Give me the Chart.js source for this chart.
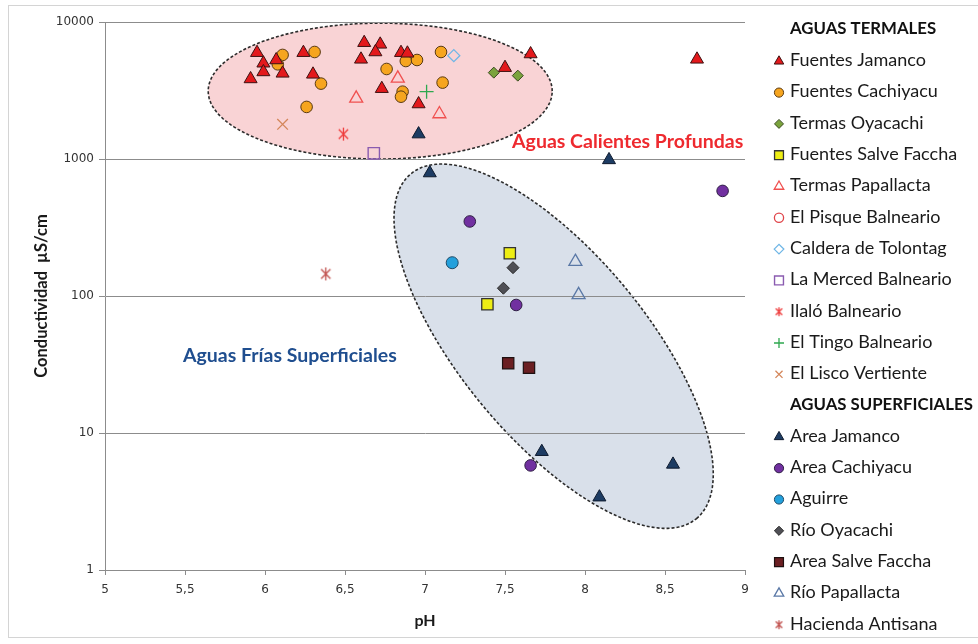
<!DOCTYPE html>
<html>
<head>
<meta charset="utf-8">
<script src="https://cdn.jsdelivr.net/npm/chart.js@4/dist/chart.umd.min.js"></script>
<style>
  html, body { margin: 0; padding: 0; background: #fff; }
  #wrap { width: 978px; height: 644px; }
</style>
</head>
<body>
<div id="wrap"><canvas id="c" width="978" height="644"></canvas></div>
<script>
// ---- Axis ticks ----
const phTicks = [5, 5.5, 6, 6.5, 7, 7.5, 8, 8.5, 9];
const ecTicks = [1, 10, 100, 1000, 10000];

// ---- Aguas termales: pH and conductivity (µS/cm) ----
const fuentesJamancoPH = [5.95, 5.99, 5.99, 5.91, 6.11, 6.07, 6.24, 6.30, 6.62, 6.72, 6.69, 6.60, 6.73, 6.85, 6.89, 6.96, 7.50, 7.66, 8.70];
const fuentesJamancoEC = [5970, 5000, 4320, 3840, 4220, 5280, 5970, 4150, 7060, 6870, 6040, 5340, 3260, 5970, 5910, 2520, 4640, 5840, 5340];
const fuentesCachiyacuPH = [6.11, 6.08, 6.31, 6.35, 6.26, 6.76, 6.88, 6.95, 7.10, 7.11, 6.86, 6.85];
const fuentesCachiyacuEC = [5750, 4910, 6040, 3550, 2400, 4540, 5190, 5280, 6040, 3610, 3100, 2850];
const termasOyacachiPH = [7.43, 7.58];
const termasOyacachiEC = [4270, 4060];
const fuentesSalveFacchaPH = [7.53, 7.39];
const fuentesSalveFacchaEC = [205, 87];
const termasPapallactaPH = [6.57, 6.83, 7.09];
const termasPapallactaEC = [2770, 3880, 2130];
const elPisquePH = [];
const elPisqueEC = [];
const calderaTolontagPH = [7.18];
const calderaTolontagEC = [5680];
const laMercedPH = [6.68];
const laMercedEC = [1100];
const ilaloPH = [6.49];
const ilaloEC = [1520];
const elTingoPH = [7.01];
const elTingoEC = [3100];
const elLiscoPH = [6.11];
const elLiscoEC = [1790];

// ---- Aguas superficiales ----
const areaJamancoPH = [6.96, 7.03, 8.15, 7.73, 8.09, 8.55];
const areaJamancoEC = [1520, 790, 985, 7.3, 3.4, 5.9];
const areaCachiyacuPH = [7.28, 8.86, 7.57, 7.66];
const areaCachiyacuEC = [350, 585, 86, 5.8];
const aguirrePH = [7.17];
const aguirreEC = [175];
const rioOyacachiPH = [7.55, 7.49];
const rioOyacachiEC = [161, 114];
const areaSalveFacchaPH = [7.52, 7.65];
const areaSalveFacchaEC = [32.3, 30];
const rioPapallactaPH = [7.94, 7.96];
const rioPapallactaEC = [178, 102];
const haciendaAntisanaPH = [6.38];
const haciendaAntisanaEC = [145];

// ---- Zone outlines: centre (pH, µS/cm) and half-axes in (pH, decades) ----
const calientesCenter = [6.72, 3130];
const calientesAxes = [[1.075, 0], [0, 0.496]];
const friasCenter = [7.804, 43.0];
const friasAxes = [[0.893, -1.258], [0.445, 0.431]];

const pairs = (xs, ys) => xs.map((x, i) => ({ x: x, y: ys[i] }));

// Excel-style asterisk marker (vertical stroke plus an X)
function asteriskCanvas(size, color) {
  const c = document.createElement('canvas');
  c.width = size; c.height = size;
  const g = c.getContext('2d');
  const m = size / 2, r = size / 2 - 1, d = r * 0.72;
  g.strokeStyle = color; g.lineWidth = 1.3;
  g.beginPath();
  g.moveTo(m, m - r); g.lineTo(m, m + r);
  g.moveTo(m - d, m - d); g.lineTo(m + d, m + d);
  g.moveTo(m + d, m - d); g.lineTo(m - d, m + d);
  g.stroke();
  return c;
}

function series(label, xs, ys, style, radius, fill, stroke, width, legendRadius) {
  return {
    label: label,
    data: pairs(xs, ys),
    pointStyle: style,
    pointRadius: radius,
    pointHoverRadius: radius,
    backgroundColor: fill,
    borderColor: stroke,
    pointBorderWidth: width,
    borderWidth: width,
    showLine: false,
    legendRadius: legendRadius
  };
}

const ilaloMark = asteriskCanvas(15, '#ee3b3b');
const ilaloLegend = asteriskCanvas(11, '#ee3b3b');
const antisanaMark = asteriskCanvas(15, '#c0504d');
const antisanaLegend = asteriskCanvas(11, '#c0504d');

const thermal = [
  series('Fuentes Jamanco', fuentesJamancoPH, fuentesJamancoEC, 'triangle', 7.5, '#e3191c', '#3d1212', 1, 5.5),
  series('Fuentes Cachiyacu', fuentesCachiyacuPH, fuentesCachiyacuEC, 'circle', 5.8, '#f6a51f', '#5a3a12', 1, 4.6),
  series('Termas Oyacachi', termasOyacachiPH, termasOyacachiEC, 'rectRot', 5.5, '#7aa33c', '#3b4a22', 1, 4.5),
  series('Fuentes Salve Faccha', fuentesSalveFacchaPH, fuentesSalveFacchaEC, 'rect', 8, '#eeee14', '#333333', 1.3, 6.3),
  series('Termas Papallacta', termasPapallactaPH, termasPapallactaEC, 'triangle', 7.5, 'rgba(0,0,0,0)', '#f0504f', 1.3, 5.5),
  series('El Pisque Balneario', elPisquePH, elPisqueEC, 'circle', 5.5, 'rgba(0,0,0,0)', '#e0454a', 1.3, 4.6),
  series('Caldera de Tolontag', calderaTolontagPH, calderaTolontagEC, 'rectRot', 6, 'rgba(0,0,0,0)', '#6fb6e6', 1.3, 4.8),
  series('La Merced Balneario', laMercedPH, laMercedEC, 'rect', 8, 'rgba(0,0,0,0)', '#8a5bb0', 1.4, 6.3),
  series('Ilaló Balneario', ilaloPH, ilaloEC, ilaloMark, 7, 'rgba(0,0,0,0)', '#ee3b3b', 1.3, ilaloLegend),
  series('El Tingo Balneario', elTingoPH, elTingoEC, 'cross', 7, 'rgba(0,0,0,0)', '#2ea84f', 1.3, 5),
  series('El Lisco Vertiente', elLiscoPH, elLiscoEC, 'crossRot', 7.5, 'rgba(0,0,0,0)', '#d4865a', 1.3, 5)
];
const surface = [
  series('Area Jamanco', areaJamancoPH, areaJamancoEC, 'triangle', 7.5, '#1d3c63', '#0e1a2e', 1, 5.5),
  series('Area Cachiyacu', areaCachiyacuPH, areaCachiyacuEC, 'circle', 5.8, '#7130a0', '#2f1f45', 1, 4.6),
  series('Aguirre', aguirrePH, aguirreEC, 'circle', 6, '#23a0dc', '#1f4a66', 1, 4.6),
  series('Río Oyacachi', rioOyacachiPH, rioOyacachiEC, 'rectRot', 6, '#4f4f55', '#2a2a2a', 1, 4.6),
  series('Area Salve Faccha', areaSalveFacchaPH, areaSalveFacchaEC, 'rect', 8, '#6b1f22', '#1e1010', 1.2, 6.3),
  series('Río Papallacta', rioPapallactaPH, rioPapallactaEC, 'triangle', 7.5, 'rgba(0,0,0,0)', '#5a78a6', 1.3, 5.5),
  series('Hacienda Antisana', haciendaAntisanaPH, haciendaAntisanaEC, antisanaMark, 7, 'rgba(0,0,0,0)', '#c0504d', 1.3, antisanaLegend)
];

// Shaded zones behind the gridlines and markers
const zonesPlugin = {
  id: 'zones',
  beforeDraw(chart) {
    const { ctx, scales: { x, y } } = chart;
    function zone(center, axes, fill) {
      const lc = Math.log10(center[1]);
      ctx.save();
      ctx.beginPath();
      for (let i = 0; i <= 180; i++) {
        const t = i / 180 * Math.PI * 2;
        const c = Math.cos(t), s = Math.sin(t);
        const ph = center[0] + axes[0][0] * c + axes[1][0] * s;
        const ld = lc + axes[0][1] * c + axes[1][1] * s;
        const px = x.getPixelForValue(ph);
        const py = y.getPixelForValue(Math.pow(10, ld));
        if (i === 0) ctx.moveTo(px, py); else ctx.lineTo(px, py);
      }
      ctx.closePath();
      ctx.fillStyle = fill;
      ctx.fill();
      ctx.setLineDash([3, 2]);
      ctx.lineWidth = 1.6;
      ctx.strokeStyle = '#2b2b2b';
      ctx.stroke();
      ctx.restore();
    }
    zone(calientesCenter, calientesAxes, '#f9d3d5');
    zone(friasCenter, friasAxes, '#d9e0ea');
  },
  afterDatasetsDraw(chart) {
    const { ctx, scales: { x, y } } = chart;
    ctx.save();
    ctx.font = 'bold 19.5px Lato';
    ctx.textBaseline = 'middle';
    ctx.textAlign = 'left';
    ctx.fillStyle = '#ee2a2f';
    ctx.fillText('Aguas Calientes Profundas', x.getPixelForValue(7.544), y.getPixelForValue(1330));
    ctx.fillStyle = '#1f4e8f';
    ctx.fillText('Aguas Frías Superficiales', x.getPixelForValue(5.4875), y.getPixelForValue(36.5));
    ctx.restore();
  }
};

// Grouped legend with section headings, plus the outer frame
const legendPlugin = {
  id: 'groupedLegend',
  afterDraw(chart) {
    const ctx = chart.ctx;
    const rows = [{ header: 'AGUAS TERMALES' }]
      .concat(thermal.map(d => ({ ds: d })))
      .concat([{ header: 'AGUAS SUPERFICIALES' }])
      .concat(surface.map(d => ({ ds: d })));
    const markX = 779, textX = 790, top = 29, step = 31.3;
    ctx.save();
    ctx.textBaseline = 'middle';
    ctx.textAlign = 'left';
    rows.forEach((r, i) => {
      const yy = top + i * step;
      if (r.header) {
        ctx.font = 'bold 16.8px Lato';
        ctx.fillStyle = '#111';
        ctx.fillText(r.header, textX, yy);
        return;
      }
      const d = r.ds;
      ctx.fillStyle = d.backgroundColor;
      ctx.strokeStyle = d.borderColor;
      ctx.lineWidth = d.borderWidth;
      const style = typeof d.pointStyle === 'string' ? d.pointStyle : d.legendRadius;
      const rad = typeof d.legendRadius === 'number' ? d.legendRadius : 5;
      Chart.helpers.drawPoint(ctx, { pointStyle: style, radius: rad, rotation: 0, borderWidth: d.borderWidth }, markX, yy + 1);
      ctx.font = '18px Lato';
      ctx.fillStyle = '#1a1a1a';
      ctx.fillText(d.label, textX, yy);
    });
    // frame runs off the right edge of the canvas
    ctx.strokeStyle = '#d4d4d4';
    ctx.lineWidth = 1;
    ctx.setLineDash([]);
    ctx.strokeRect(8.5, 5.5, 990, 632);
    ctx.restore();
  }
};

Chart.defaults.font.family = 'Lato';

new Chart(document.getElementById('c'), {
  type: 'scatter',
  data: { datasets: thermal.concat(surface) },
  options: {
    responsive: false,
    animation: false,
    events: [],
    layout: { padding: { left: 0, right: 233, top: 22, bottom: 0 } },
    plugins: { legend: { display: false }, tooltip: { enabled: false } },
    scales: {
      x: {
        type: 'linear',
        min: 5, max: 9,
        afterBuildTicks(s) { s.ticks = phTicks.map(v => ({ value: v })); },
        ticks: {
          callback: v => String(v).replace('.', ','),
          font: { family: 'DejaVu Sans', size: 12 },
          color: '#333333',
          padding: 8,
          maxRotation: 0,
          autoSkip: false
        },
        grid: { drawOnChartArea: false, tickLength: 5, color: '#8c8c8c' },
        border: { color: '#8c8c8c' },
        title: { display: true, text: 'pH', font: { family: 'Lato', size: 16, weight: 'bold' }, color: '#1a1a1a', padding: { top: 0, bottom: 14 } },
        afterFit(s) { s.height = 74; }
      },
      y: {
        type: 'logarithmic',
        min: 1, max: 10000,
        afterBuildTicks(s) { s.ticks = ecTicks.map(v => ({ value: v })); },
        ticks: {
          callback: v => String(v),
          font: { family: 'DejaVu Sans', size: 12 },
          color: '#333333',
          padding: 5,
          autoSkip: false
        },
        grid: { color: '#8c8c8c', tickLength: 6 },
        border: { color: '#8c8c8c' },
        title: { display: true, text: 'Conductividad  µS/cm', font: { family: 'Lato', size: 16.5, weight: 'bold' }, color: '#1a1a1a', padding: { top: 32, bottom: 0 } },
        afterFit(s) { s.width = 105; }
      }
    }
  },
  plugins: [zonesPlugin, legendPlugin]
});
</script>
</body>
</html>
